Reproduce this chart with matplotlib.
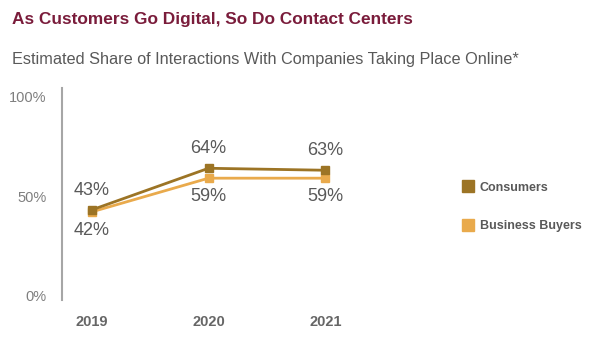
import matplotlib
matplotlib.use('Agg')
import matplotlib.pyplot as plt
from matplotlib.lines import Line2D

plt.rcParams['font.family'] = ['Liberation Sans', 'DejaVu Sans']

years = ['2019', '2020', '2021']
consumers = [43, 64, 63]
business_buyers = [42, 59, 59]
yticks = [0, 50, 100]
ytick_labels = ['0%', '50%', '100%']

c_cons = '#9C7425'
c_bus = '#E9AA4C'
grey = '#595959'

fig = plt.figure(figsize=(6, 3.59), dpi=100)
ax = fig.add_axes([0.103, 0.164, 0.597, 0.591])

x = list(range(len(years)))
ax.plot(x, business_buyers, color=c_bus, lw=2, marker='s', ms=6, zorder=2)
ax.plot(x, consumers, color=c_cons, lw=2, marker='s', ms=6, zorder=3)

# labels: consumers above, business buyers below
for i in x:
    ax.annotate(f'{consumers[i]}%', (i, consumers[i]), xytext=(0, 8), textcoords='offset points',
                ha='center', va='bottom', fontsize=13, color=grey)
    ax.annotate(f'{business_buyers[i]}%', (i, business_buyers[i]), xytext=(0, -7), textcoords='offset points',
                ha='center', va='top', fontsize=13, color=grey)

ax.set_xlim(-0.256, 2.81)
ax.set_ylim(-2.5, 104.5)
ax.set_xticks(x)
ax.set_xticklabels(years, fontsize=10.5, fontweight='bold', color='#666666')
ax.set_yticks(yticks)
ax.set_yticklabels(ytick_labels, fontsize=10.5, color='#7f7f7f')
ax.tick_params(length=0)
ax.tick_params(axis='x', pad=11)
ax.tick_params(axis='y', pad=11)
for s in ['top', 'right', 'bottom']:
    ax.spines[s].set_visible(False)
ax.spines['left'].set_color('#a6a6a6')
ax.spines['left'].set_linewidth(1.5)

handles = [Line2D([], [], color=c_cons, marker='s', ls='none', ms=8),
           Line2D([], [], color=c_bus, marker='s', ls='none', ms=8)]
fig.legend(handles, ['Consumers', 'Business Buyers'], loc='upper left', bbox_to_anchor=(0.75, 0.525),
           frameon=False, labelspacing=2.1, handletextpad=0.5, handlelength=1,
           prop={'size': 9, 'weight': 'bold'}, labelcolor=grey)

fig.text(0.02, 0.945, 'As Customers Go Digital, So Do Contact Centers', fontsize=12.4, fontweight='bold',
         color='#7A1C3B', va='center')
fig.text(0.02, 0.835, 'Estimated Share of Interactions With Companies Taking Place Online*', fontsize=11.7,
         color=grey, va='center')

fig.savefig('out.png', dpi=100)
